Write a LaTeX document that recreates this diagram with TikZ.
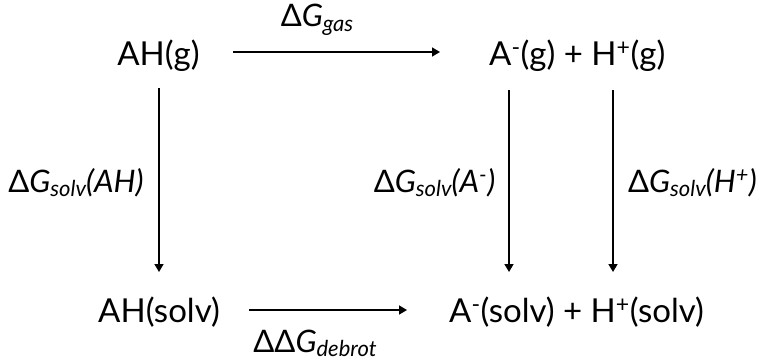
\documentclass[tikz,border=0pt]{standalone}
\usepackage{fontspec}
\setmainfont{Lato}
\usetikzlibrary{arrows.meta}
\newcommand{\mysub}[1]{\raisebox{-0.14em}{\fontsize{22}{24}\selectfont\itshape #1}}
\begin{document}
\begin{tikzpicture}[x=1pt,y=-1pt,
  chem/.style={inner sep=0pt, anchor=base, font=\fontsize{33}{38}\selectfont},
  glbl/.style={inner sep=0pt, anchor=base, font=\fontsize{31}{36}\selectfont},
  arr/.style={-{Triangle[length=8pt,width=9pt]}, line width=1.6pt}]
\useasboundingbox (0,0) rectangle (759,361);
% species
\node[chem] (ahg) at (158.5,65) {AH(g)};
\node[chem,anchor=base west] (tr) at (489,65) {A\textsuperscript{-}(g) + H\textsuperscript{+}(g)};
\node[chem] (ahs) at (159,322) {AH(solv)};
\node[chem,anchor=base west] (br) at (449,322) {A\textsuperscript{-}(solv) + H\textsuperscript{+}(solv)};
% labels
\node[glbl] (gas) at (317,27) {Δ\textit{G}\mysub{gas}};
\node[glbl] (debrot) at (315,352) {ΔΔ\textit{G}\mysub{debrot}};
\node[glbl] (solvAH) at (76,192) {Δ\textit{G}\mysub{solv}\textit{(AH)}};
\node[glbl] (solvA) at (434.5,192) {Δ\textit{G}\mysub{solv}\textit{(A\textsuperscript{-})}};
\node[glbl] (solvH) at (692.5,192) {Δ\textit{G}\mysub{solv}\textit{(H\textsuperscript{+})}};
% arrows
\draw[arr] ([shift={(74.5,-13)}]ahg.base) -- ([shift={(-49,-13)}]tr.base west);
\draw[arr] ([shift={(90,-12)}]ahs.base) -- ([shift={(-42,-12)}]br.base west);
\draw[arr] ([shift={(0.5,23)}]ahg.base) -- ([shift={(0,-50)}]ahs.base);
\draw[arr] ([shift={(20,25)}]tr.base west) -- ([shift={(60,-50)}]br.base west);
\draw[arr] ([shift={(124,25)}]tr.base west) -- ([shift={(164,-50)}]br.base west);
\end{tikzpicture}
\end{document}
